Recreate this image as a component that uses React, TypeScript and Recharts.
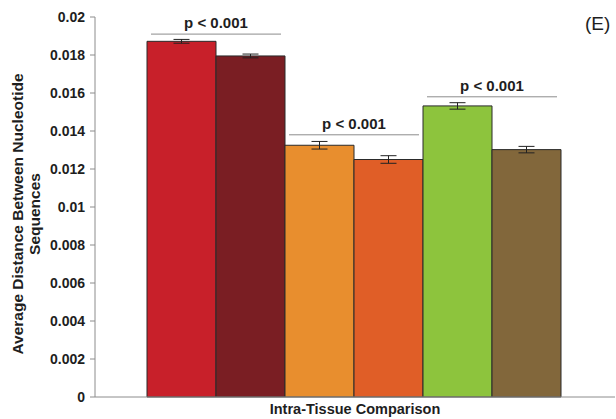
import React from "react";
import { BarChart, Bar, XAxis, YAxis, ErrorBar, LabelList } from "recharts";

const FONT = "'Liberation Sans', Arial, Helvetica, sans-serif";

// one category, six bars (three tissue pairs)
const barKeys = ["b0", "b1", "b2", "b3", "b4", "b5"];
const means = [0.01872, 0.01795, 0.01325, 0.0125, 0.01532, 0.01302];
const errors = [0.0001, 0.0001, 0.0002, 0.0002, 0.00017, 0.00017];
const barColors = ["#c8202a", "#7a1e23", "#e88e2e", "#e05e27", "#8dc43d", "#82673b"];

// significance brackets over each pair
const bracketLevels = [0.0191, 0.0138, 0.0158];
const pLabels = ["p < 0.001", "p < 0.001", "p < 0.001"];

const yTicks = [0, 0.002, 0.004, 0.006, 0.008, 0.01, 0.012, 0.014, 0.016, 0.018, 0.02];

const row: Record<string, number | string> = { name: "Intra-Tissue Comparison" };
barKeys.forEach((k, i) => {
  row[k] = means[i];
  row[k + "_err"] = errors[i];
});
const rows = [row];

const AXIS_GREY = "#8c8c8c";
const INK = "#1e1e1e";

// draws the bracket + p label spanning this bar and the next one
const makeBracket = (pair: number) => (props: any) => {
  const { x, y, width, height, value } = props;
  const base = Number(y) + Number(height);
  const level = base - (Number(height) * bracketLevels[pair]) / Number(value);
  const x1 = Number(x) + 4;
  const x2 = Number(x) + 2 * Number(width) - 4;
  return (
    <g>
      <line x1={x1} x2={x2} y1={level} y2={level} stroke={AXIS_GREY} strokeWidth={1} />
      <text
        x={(x1 + x2) / 2}
        y={level - 6}
        textAnchor="middle"
        fontFamily={FONT}
        fontWeight="bold"
        fontSize={15}
        fill={INK}
      >
        {pLabels[pair]}
      </text>
    </g>
  );
};

const YTitle = (props: any) => {
  const vb = props.viewBox || { x: 0, y: 17, width: 95, height: 380 };
  const cy = vb.y + vb.height / 2 + 7;
  return (
    <g fontFamily={FONT} fontWeight="bold" fontSize={15.5} fill={INK}>
      <text x={17} y={cy} textAnchor="middle" dominantBaseline="central" transform={`rotate(-90 17 ${cy})`}>
        Average Distance Between Nucleotide
      </text>
      <text x={34} y={cy} textAnchor="middle" dominantBaseline="central" transform={`rotate(-90 34 ${cy})`}>
        Sequences
      </text>
    </g>
  );
};

const XTitle = (props: any) => {
  const vb = props.viewBox || { x: 95, y: 397, width: 520, height: 22 };
  return (
    <text
      x={vb.x + vb.width / 2}
      y={vb.y + 17}
      textAnchor="middle"
      fontFamily={FONT}
      fontWeight="bold"
      fontSize={14.5}
      fill={INK}
    >
      Intra-Tissue Comparison
    </text>
  );
};

export default function App() {
  return (
    <div style={{ position: "absolute", left: 0, top: 0, width: 616, height: 419, background: "#fff" }}>
      <BarChart
        width={616}
        height={419}
        data={rows}
        margin={{ top: 17, right: 1, left: 0, bottom: 0 }}
        barCategoryGap="10%"
        barGap={0}
      >
        <XAxis
          dataKey="name"
          tick={false}
          tickLine={false}
          axisLine={{ stroke: AXIS_GREY }}
          height={22}
          label={<XTitle />}
        />
        <YAxis
          width={95}
          domain={[0, 0.02]}
          ticks={yTicks}
          interval={0}
          tickSize={5}
          tickMargin={5}
          axisLine={{ stroke: AXIS_GREY }}
          tickLine={{ stroke: AXIS_GREY }}
          tick={{ fontFamily: FONT, fontWeight: "bold", fontSize: 14, fill: INK }}
          label={<YTitle />}
        />
        {barKeys.map((k, i) => (
          <Bar
            key={k}
            dataKey={k}
            fill={barColors[i]}
            stroke="#2a2a2a"
            strokeWidth={1}
            isAnimationActive={false}
          >
            <ErrorBar dataKey={k + "_err"} width={8} stroke="#222" strokeWidth={1} />
            {i % 2 === 0 && <LabelList dataKey={k} content={makeBracket(i / 2)} />}
          </Bar>
        ))}
      </BarChart>
      <div
        style={{
          position: "absolute",
          left: 585,
          top: 13,
          fontFamily: FONT,
          fontSize: 19,
          color: INK,
          lineHeight: "21px",
        }}
      >
        (E)
      </div>
    </div>
  );
}
